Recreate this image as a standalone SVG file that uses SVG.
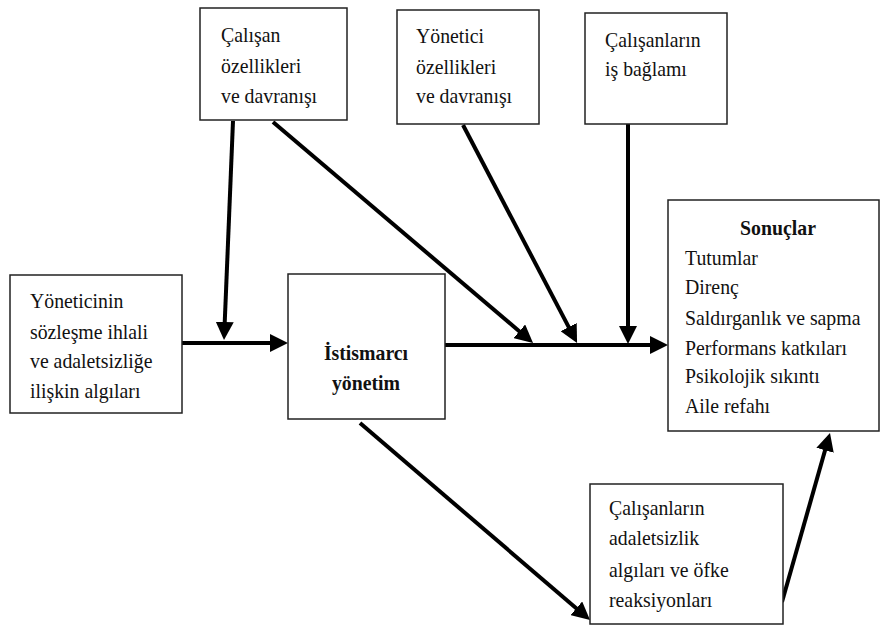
<svg xmlns="http://www.w3.org/2000/svg" width="880" height="626" viewBox="0 0 880 626">
<defs>
<style>
.box{fill:#fff;stroke:#222;stroke-width:1.5}
.t{font-size:22px;fill:#111}
.b{font-weight:bold}
.c{fill:none;stroke:#000;stroke-width:4;stroke-linecap:butt}
</style>
<marker id="ah" markerUnits="userSpaceOnUse" markerWidth="18" markerHeight="18" refX="6" refY="9" orient="auto" viewBox="0 0 18 18">
<path d="M0,0 L18,9 L0,18 z" fill="#000"/>
</marker>
</defs>
<rect width="880" height="626" fill="#fff"/>

<g id="connectors">
<line class="c" x1="182" y1="343" x2="276" y2="343" marker-end="url(#ah)"/>
<line class="c" x1="233" y1="121" x2="224.5" y2="328" marker-end="url(#ah)"/>
<line class="c" x1="273" y1="122" x2="523.9" y2="335.2" marker-end="url(#ah)"/>
<line class="c" x1="463" y1="125" x2="571.5" y2="332.4" marker-end="url(#ah)"/>
<line class="c" x1="628" y1="124" x2="628" y2="332" marker-end="url(#ah)"/>
<line class="c" x1="445" y1="345" x2="656" y2="345" marker-end="url(#ah)"/>
<line class="c" x1="360" y1="423" x2="580.9" y2="612.2" marker-end="url(#ah)"/>
<line class="c" x1="782" y1="602" x2="826.7" y2="444.5" marker-end="url(#ah)"/>
</g>

<g font-family="'Liberation Serif', 'DejaVu Serif', serif">
<g id="calisan-ozellikleri">
<rect class="box" x="200" y="8" width="147" height="112"/>
<text class="t" transform="translate(221,42) scale(0.9,1)"><tspan x="0" y="0">Çalışan</tspan><tspan x="0" y="31">özellikleri</tspan><tspan x="0" y="61">ve davranışı</tspan></text>
</g>

<g id="yonetici-ozellikleri">
<rect class="box" x="397" y="10" width="142" height="114"/>
<text class="t" transform="translate(416,43) scale(0.9,1)"><tspan x="0" y="0">Yönetici</tspan><tspan x="0" y="31">özellikleri</tspan><tspan x="0" y="60">ve davranışı</tspan></text>
</g>

<g id="is-baglami">
<rect class="box" x="585" y="13" width="142" height="111"/>
<text class="t" transform="translate(605,47) scale(0.9,1)"><tspan x="0" y="0">Çalışanların</tspan><tspan x="0" y="29">iş bağlamı</tspan></text>
</g>

<g id="sozlesme-ihlali">
<rect class="box" x="10" y="275" width="172" height="138"/>
<text class="t" transform="translate(30,308) scale(0.9,1)"><tspan x="0" y="0">Yöneticinin</tspan><tspan x="0" y="31">sözleşme ihlali</tspan><tspan x="0" y="60">ve adaletsizliğe</tspan><tspan x="0" y="90">ilişkin algıları</tspan></text>
</g>

<g id="istismarci-yonetim">
<rect class="box" x="288" y="274" width="157" height="145"/>
<text class="t b" text-anchor="middle" transform="translate(366,360) scale(0.9,1)"><tspan x="0" y="0">İstismarcı</tspan><tspan x="0" y="30">yönetim</tspan></text>
</g>

<g id="sonuclar">
<rect class="box" x="668" y="200" width="211" height="231"/>
<text class="t b" text-anchor="middle" transform="translate(778,235) scale(0.9,1)">Sonuçlar</text>
<text class="t" transform="translate(685,265) scale(0.9,1)"><tspan x="0" y="0">Tutumlar</tspan><tspan x="0" y="29">Direnç</tspan><tspan x="0" y="60">Saldırganlık ve sapma</tspan><tspan x="0" y="90">Performans katkıları</tspan><tspan x="0" y="118">Psikolojik sıkıntı</tspan><tspan x="0" y="148">Aile refahı</tspan></text>
</g>

<g id="ofke-reaksiyonlari">
<rect class="box" x="590" y="484" width="193" height="140"/>
<text class="t" transform="translate(609,515) scale(0.9,1)"><tspan x="0" y="0">Çalışanların</tspan><tspan x="0" y="30">adaletsizlik</tspan><tspan x="0" y="62">algıları ve öfke</tspan><tspan x="0" y="92">reaksiyonları</tspan></text>
</g>
</g>
</svg>
